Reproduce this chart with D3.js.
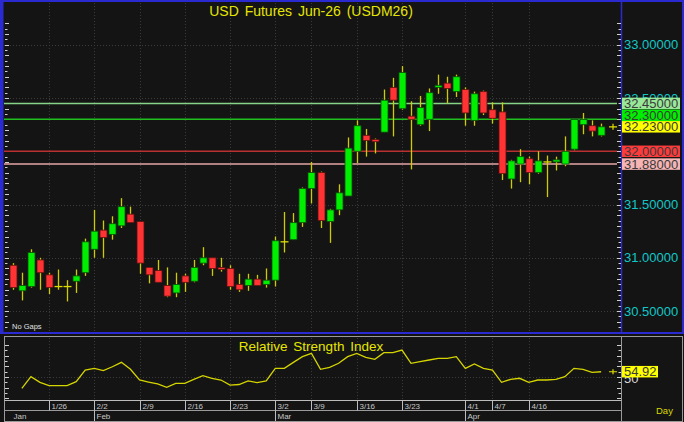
<!DOCTYPE html>
<html><head><meta charset="utf-8">
<script src="https://cdn.jsdelivr.net/npm/d3@7"></script>
<style>html,body{margin:0;padding:0;background:#141414;}svg{display:block;}</style>
</head><body>
<svg id="c" width="684" height="422"></svg>
<script>
const title = "USD Futures Jun-26 (USDM26)";
const openV  = [30.93,30.69,30.73,30.98,30.84,30.73,30.73,30.78,30.86,31.08,31.26,31.22,31.30,31.41,31.34,30.91,30.88,30.74,30.67,30.83,30.78,30.95,31.00,30.91,30.90,30.75,30.74,30.80,30.75,30.79,31.15,31.17,31.33,31.65,31.80,31.34,31.45,31.58,32.00,32.15,32.11,32.18,32.60,32.40,32.33,32.25,32.30,32.60,32.64,32.56,32.58,32.29,32.56,32.39,32.37,31.74,31.88,31.93,31.80,31.90,31.90,31.88,32.02,32.25,32.24,32.15];
const highV  = [30.95,30.86,31.08,31.00,30.86,30.89,30.79,30.89,31.18,31.45,31.35,31.39,31.56,31.48,31.34,30.91,30.98,30.91,30.86,30.85,30.98,31.10,31.00,31.00,30.93,30.85,30.85,30.84,30.90,31.20,31.43,31.42,31.66,31.90,31.81,31.46,31.69,32.13,32.29,32.21,32.12,32.58,32.69,32.80,32.47,32.52,32.59,32.72,32.70,32.72,32.60,32.56,32.57,32.46,32.46,31.92,32.02,31.95,32.00,31.96,31.95,32.14,32.30,32.36,32.29,32.26];
const lowV   = [30.70,30.60,30.72,30.70,30.66,30.70,30.59,30.67,30.83,31.00,31.00,31.17,31.28,31.33,30.85,30.76,30.77,30.63,30.63,30.68,30.77,30.93,30.83,30.87,30.70,30.68,30.69,30.74,30.72,30.73,31.05,31.17,31.29,31.51,31.28,31.14,31.40,31.58,31.89,31.95,31.98,32.18,32.14,32.39,31.83,32.24,32.19,32.54,32.45,32.51,32.24,32.24,32.34,32.26,31.73,31.65,31.71,31.69,31.79,31.57,31.82,31.86,32.01,32.16,32.14,32.14];
const closeV = [30.72,30.74,31.05,30.86,30.72,30.73,30.73,30.83,31.15,31.25,31.19,31.32,31.48,31.33,30.95,30.84,30.77,30.64,30.75,30.77,30.91,31.00,30.90,30.89,30.73,30.70,30.80,30.74,30.79,31.16,31.15,31.33,31.65,31.80,31.35,31.45,31.61,32.03,32.24,32.10,32.09,32.48,32.48,32.74,32.30,32.41,32.55,32.62,32.59,32.70,32.36,32.54,32.36,32.31,31.79,31.91,31.95,31.80,31.91,31.90,31.92,32.00,32.30,32.30,32.19,32.23];
const rsiV   = [null,39.4,50.3,45.0,41.9,41.9,41.9,45.6,56.5,58.1,55.9,59.6,63.7,57.2,47.2,45.3,43.5,40.4,44.1,44.1,47.8,51.2,48.8,47.2,42.5,43.0,46.3,44.7,46.3,58.1,58.1,63.7,69.0,72.1,57.2,59.1,62.8,69.0,72.1,68.4,66.5,72.7,72.7,75.2,62.8,64.4,65.9,67.5,67.5,69.0,58.1,62.2,58.1,56.5,45.0,47.8,48.8,45.0,47.2,47.2,47.8,50.3,58.1,57.2,54.4,54.92];
const dayTickLabels = ["1/26","2/2","2/9","2/16","2/23","3/2","3/9","3/16","3/23","4/1","4/7","4/16"];
const dayTickIndex  = [4,9,14,19,24,29,33,38,43,50,53,57];
const monthLabels = ["Jan","Feb","Mar","Apr"];
const monthIndex  = [null,9,29,50];
const priceTicks = [30.5,31.0,31.5,32.0,32.5,33.0];
const levelValues = [32.45,32.30,32.00,31.88];
const levelLine = ["#86d486","#1fbf1f","#b83030","#e6a4a4"];
const levelBox  = ["#98e898","#00ee00","#ff3a3a","#f6b4b4"];
const lastPrice = 32.23;
const lastRsi = 54.92;

const svg = d3.select("#c");
const FONT = "'Liberation Sans', Arial, sans-serif";
const n = closeV.length;
const x = d3.scaleLinear().domain([0, n-1]).range([12.8, 601.1]);
const y = d3.scaleLinear().domain([30.5, 33.0]).range([311.05, 44.8]);
const yr = d3.scaleLinear().domain([30, 80]).range([398.4, 344.9]);
const plotL = 4, plotR = 621;

// backgrounds
svg.append("rect").attr("width",684).attr("height",422).attr("fill","#121212");
// main panel
svg.append("rect").attr("x",1).attr("y",1).attr("width",682).attr("height",332).attr("fill","#141414").attr("stroke","#2a2ad0").attr("stroke-width",2);
svg.append("rect").attr("x",0).attr("y",0).attr("width",3.5).attr("height",334).attr("fill","#2a2ad0");
svg.append("line").attr("x1",plotR+0.5).attr("x2",plotR+0.5).attr("y1",1).attr("y2",333).attr("stroke","#2a2ad0").attr("stroke-width",1.5);

// grid main
const g = svg.append("g");
priceTicks.forEach(v => {
  g.append("line").attr("x1",plotL).attr("x2",plotR).attr("y1",Math.round(y(v))+0.5).attr("y2",Math.round(y(v))+0.5)
   .attr("stroke","#3a3a3a").attr("stroke-dasharray","1,2");
});
dayTickIndex.forEach(i => {
  const xx = Math.round(x(i))+0.5;
  g.append("line").attr("x1",xx).attr("x2",xx).attr("y1",3).attr("y2",331).attr("stroke","#3a3a3a").attr("stroke-dasharray","1,2");
  g.append("line").attr("x1",xx).attr("x2",xx).attr("y1",338).attr("y2",400).attr("stroke","#3a3a3a").attr("stroke-dasharray","1,2");
});
// price minor ticks left & right
for (let k = 0; ; k++) {
  const v = 30.25 + k*0.05; if (v > 33.2) break;
  const yy = Math.round(y(v))+0.5; if (yy < 4 || yy > 331) continue;
  const major = Math.abs(Math.round(v*10) - v*10) < 1e-6;
  g.append("line").attr("x1",5).attr("x2",major?9:7.5).attr("y1",yy).attr("y2",yy).attr("stroke","#cfcfcf");
  g.append("line").attr("x1",plotR-(major?4:2.5)).attr("x2",plotR).attr("y1",yy).attr("y2",yy).attr("stroke","#cfcfcf");
}

// level lines
levelValues.forEach((v,k) => {
  g.append("line").attr("x1",plotL).attr("x2",617).attr("y1",y(v)).attr("y2",y(v)).attr("stroke",levelLine[k]).attr("stroke-width",1.5);
});

// candles
const cg = svg.append("g");
const bw = 7;
for (let i = 0; i < n; i++) {
  const cx = Math.round(x(i)) + 0.5;
  const o = openV[i], c = closeV[i];
  cg.append("line").attr("x1",cx).attr("x2",cx).attr("y1",y(highV[i])).attr("y2",y(lowV[i])).attr("stroke","#cccc00").attr("stroke-width",1.3);
  if (Math.abs(o-c) < 0.005) {
    cg.append("line").attr("x1",cx-4).attr("x2",cx+4).attr("y1",y(c)).attr("y2",y(c)).attr("stroke","#dddd00").attr("stroke-width",1.3);
  } else {
    const top = y(Math.max(o,c)), bot = y(Math.min(o,c));
    cg.append("rect").attr("x",cx-bw/2).attr("y",top).attr("width",bw).attr("height",Math.max(bot-top,1.5))
      .attr("fill", c > o ? "#00ee00" : "#ff3333").attr("stroke", c > o ? "#0b4a0b" : "#5a1010").attr("stroke-width",0.8);
  }
}
// last price marker
const lp = y(lastPrice);
svg.append("path").attr("d",`M609,${lp}H617M613,${lp-3}V${lp+3}`).attr("stroke","#e0e000").attr("stroke-width",1.2);

// title
svg.append("text").attr("x",311).attr("y",16).attr("text-anchor","middle").attr("fill","#e6e600")
  .attr("font-family",FONT).attr("font-size",14).attr("word-spacing",2).text(title);
svg.append("text").attr("x",12).attr("y",329).attr("fill","#e0e0e0").attr("font-family",FONT).attr("font-size",7.5).text("No Gaps");

// right axis labels
priceTicks.forEach(v => {
  svg.append("text").attr("x",624).attr("y",y(v)+4.6).attr("fill","#10c8c8").attr("font-family",FONT).attr("font-size",13).text(v.toFixed(5));
});
// level boxes with collision avoidance
const boxes = levelValues.map((v,k)=>({v, fill:levelBox[k], cy:y(v)}));
boxes.push({v:lastPrice, fill:"#ffff00", cy:y(lastPrice), fixed:true});
boxes.sort((a,b)=>b.cy-a.cy);
const bh = 11.5;
for (let k = 1; k < boxes.length; k++) {
  const below = boxes[k-1];
  if (boxes[k].cy > below.cy - bh) boxes[k].cy = below.cy - bh;
}
boxes.forEach(b => {
  svg.append("rect").attr("x",622).attr("y",b.cy-bh/2).attr("width",58).attr("height",bh).attr("fill",b.fill);
  svg.append("text").attr("x",624).attr("y",b.cy+4.6).attr("fill","#3a3a3a").attr("font-family",FONT).attr("font-size",13).text(b.v.toFixed(5));
});

// RSI panel
svg.append("rect").attr("x",4.5).attr("y",336.5).attr("width",678).attr("height",85).attr("fill","#141414").attr("stroke","#9a9a9a");
svg.append("line").attr("x1",plotR+0.5).attr("x2",plotR+0.5).attr("y1",336.5).attr("y2",421).attr("stroke","#9a9a9a");
const rg = svg.append("g");
dayTickIndex.forEach(i => {
  const xx = Math.round(x(i))+0.5;
  rg.append("line").attr("x1",xx).attr("x2",xx).attr("y1",338).attr("y2",400).attr("stroke","#3a3a3a").attr("stroke-dasharray","1,2");
});
rg.append("line").attr("x1",5).attr("x2",plotR).attr("y1",Math.round(yr(50))+0.5).attr("y2",Math.round(yr(50))+0.5).attr("stroke","#3a3a3a").attr("stroke-dasharray","1,2");
d3.range(30,81,5).forEach(v => {
  const yy = Math.round(yr(v))+0.5;
  rg.append("line").attr("x1",5).attr("x2",v%10===0?9:7.5).attr("y1",yy).attr("y2",yy).attr("stroke","#cfcfcf");
  rg.append("line").attr("x1",plotR-(v%10===0?4:2.5)).attr("x2",plotR).attr("y1",yy).attr("y2",yy).attr("stroke","#cfcfcf");
});
const rsiLine = d3.line().defined(d=>d!=null).x((d,i)=>x(i)).y(d=>yr(d));
rg.append("path").attr("d",rsiLine(rsiV)).attr("fill","none").attr("stroke","#d4d400").attr("stroke-width",1.3);
rg.append("text").attr("x",311).attr("y",351).attr("text-anchor","middle").attr("fill","#e6e600").attr("font-family",FONT).attr("font-size",13.5).attr("word-spacing",2).text("Relative Strength Index");
const lr = yr(lastRsi);
rg.append("path").attr("d",`M609,${lr}H617M613,${lr-2.5}V${lr+2.5}`).attr("stroke","#e0e000").attr("stroke-width",1.2);
rg.append("text").attr("x",624).attr("y",yr(50)+6).attr("fill","#d8d8d8").attr("font-family",FONT).attr("font-size",13).text("50");
rg.append("rect").attr("x",622).attr("y",lr-5.8).attr("width",36).attr("height",11.5).attr("fill","#ffff00");
rg.append("text").attr("x",624).attr("y",lr+4.6).attr("fill","#3a3a3a").attr("font-family",FONT).attr("font-size",13).text(lastRsi.toFixed(2));

// x axis rows
const xg = svg.append("g");
xg.append("line").attr("x1",4.5).attr("x2",plotR+0.5).attr("y1",400.5).attr("y2",400.5).attr("stroke","#bdbdbd");
xg.append("line").attr("x1",4.5).attr("x2",plotR+0.5).attr("y1",410.5).attr("y2",410.5).attr("stroke","#9a9a9a");
dayTickIndex.forEach((i,k) => {
  const xx = Math.round(x(i))+0.5;
  xg.append("line").attr("x1",xx).attr("x2",xx).attr("y1",400.5).attr("y2",410.5).attr("stroke","#bdbdbd");
  xg.append("text").attr("x",xx+2).attr("y",408.5).attr("fill","#c8c8c8").attr("font-family",FONT).attr("font-size",8).text(dayTickLabels[k]);
});
monthLabels.forEach((m,k) => {
  const i = monthIndex[k];
  const xx = i == null ? 5.5 : Math.round(x(i))+0.5;
  if (i != null) xg.append("line").attr("x1",xx).attr("x2",xx).attr("y1",410.5).attr("y2",421).attr("stroke","#bdbdbd");
  xg.append("text").attr("x",xx+(i==null?8:2)).attr("y",418.5).attr("fill","#c8c8c8").attr("font-family",FONT).attr("font-size",8).text(m);
});
svg.append("text").attr("x",656).attr("y",414).attr("fill","#d8d800").attr("font-family",FONT).attr("font-size",9.5).text("Day");
</script>
</body></html>
